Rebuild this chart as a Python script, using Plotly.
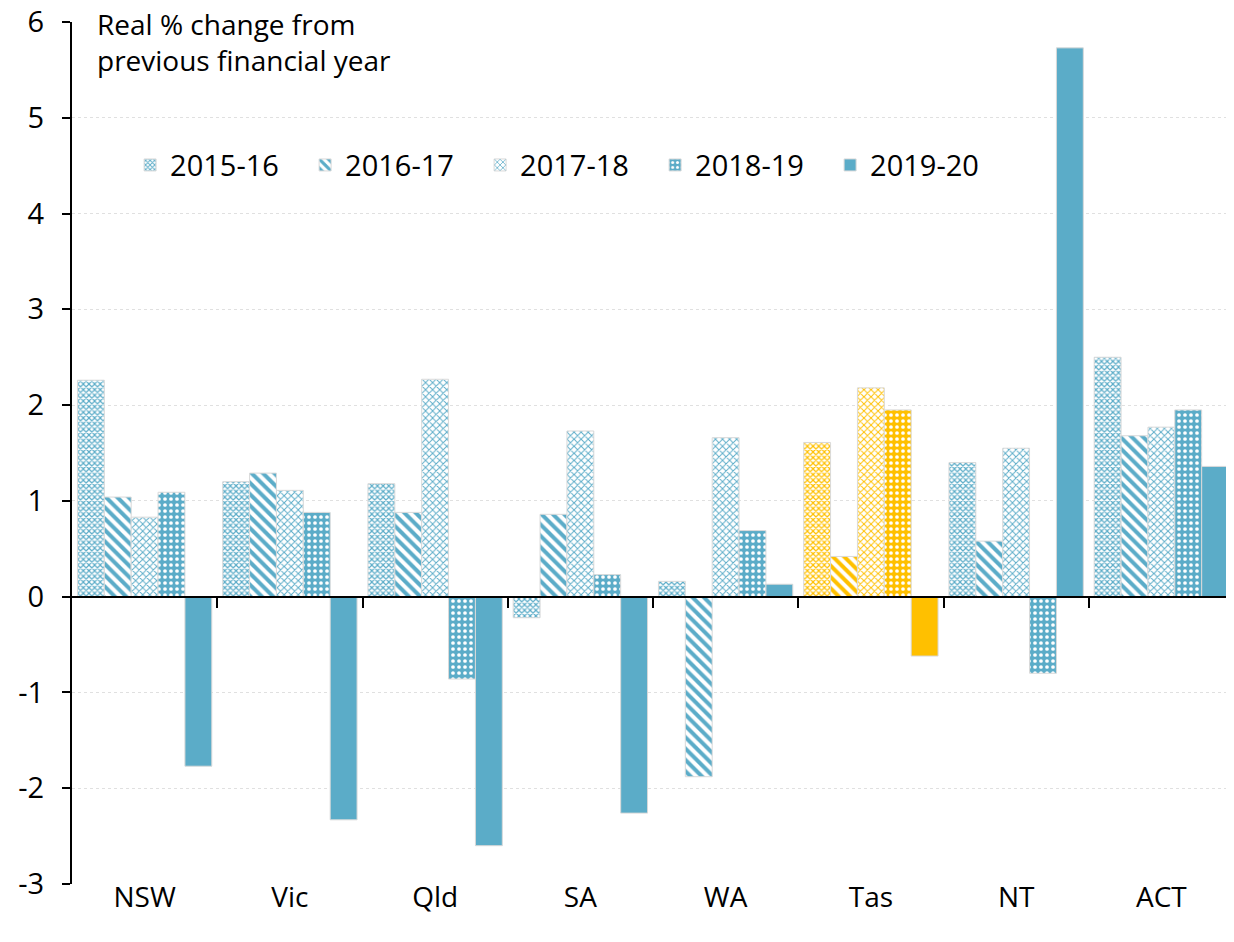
import plotly.graph_objects as go

states = ["NSW", "Vic", "Qld", "SA", "WA", "Tas", "NT", "ACT"]
years = ["2015-16", "2016-17", "2017-18", "2018-19", "2019-20"]

v_2015_16 = [2.26, 1.20, 1.18, -0.22, 0.16, 1.61, 1.40, 2.50]
v_2016_17 = [1.04, 1.29, 0.88, 0.86, -1.88, 0.42, 0.58, 1.68]
v_2017_18 = [0.83, 1.11, 2.27, 1.73, 1.66, 2.18, 1.55, 1.77]
v_2018_19 = [1.09, 0.88, -0.86, 0.23, 0.69, 1.95, -0.80, 1.95]
v_2019_20 = [-1.77, -2.33, -2.60, -2.26, 0.13, -0.62, 5.73, 1.36]

series = [v_2015_16, v_2016_17, v_2017_18, v_2018_19, v_2019_20]

y_ticks = [-3, -2, -1, 0, 1, 2, 3, 4, 5, 6]
y_tick_text = ["-3", "-2", "-1", "0", "1", "2", "3", "4", "5", "6"]

BLUE = "#5BACC8"
GOLD = "#FFC000"
FONT = "Open Sans"

# Tasmania is highlighted in gold
colours = [GOLD if s == "Tas" else BLUE for s in states]
whites = ["white"] * len(states)

# pattern per year: (shape, size, solidity, white marks on colour?)
patterns = [
    ("x", 4, 0.5, False),
    ("\\", 8, 0.5, False),
    ("x", 5, 0.35, False),
    (".", 6, 0.3, True),
    None,
]

fig = go.Figure()

for name, vals, pat in zip(years, series, patterns):
    if pat is None:
        marker = dict(color=colours)
    else:
        shape, size, solidity, inverse = pat
        # scalar marker colour so the per-bar pattern colours are honoured
        marker = dict(
            color=BLUE,
            pattern=dict(shape=shape, size=size, solidity=solidity,
                         fgcolor=whites if inverse else colours,
                         bgcolor=colours if inverse else whites,
                         fillmode="replace"),
        )
    marker["line"] = dict(color="#D9D9D9", width=1)
    fig.add_trace(go.Bar(x=states, y=vals, name=name, marker=marker))

# invisible trace so the zero-line axis with boundary ticks gets drawn
fig.add_trace(go.Scatter(x=[None], y=[None], xaxis="x2", showlegend=False,
                         hoverinfo="skip"))

fig.update_layout(
    width=1226, height=926,
    margin=dict(l=64, r=0, t=14, b=50),
    paper_bgcolor="white", plot_bgcolor="white",
    font=dict(family=FONT, size=24, color="black"),
    barmode="group", bargap=0.075, bargroupgap=0,
    showlegend=True,
    legend=dict(
        orientation="h", x=0.05, y=0.834, xanchor="left", yanchor="middle",
        font=dict(size=29), bgcolor="rgba(0,0,0,0)", itemwidth=30,
        entrywidth=130, entrywidthmode="pixels", traceorder="normal"
    ),
    xaxis=dict(
        showline=False, ticks="", showgrid=False, zeroline=False,
        tickfont=dict(size=28), range=[-0.5, 7.5], automargin=False,
        ticklabelstandoff=-6
    ),
    xaxis2=dict(
        overlaying="x", anchor="free", position=1 / 3, range=[-0.5, 7.5],
        showline=True, linecolor="black", linewidth=2,
        ticks="outside", ticklen=10, tickwidth=2, tickcolor="black",
        tickvals=[0.5, 1.5, 2.5, 3.5, 4.5, 5.5, 6.5],
        showticklabels=False, showgrid=False, zeroline=False, automargin=False
    ),
    yaxis=dict(
        range=[-3, 6], tickvals=y_ticks, ticktext=y_tick_text,
        showline=True, linecolor="black", linewidth=2,
        ticks="outside", ticklen=8, tickwidth=2, tickcolor="black",
        tickfont=dict(size=29), showgrid=True, gridcolor="#E0E0E0",
        griddash="dot", gridwidth=1, zeroline=False, automargin=False,
        ticklabelstandoff=12, ticklabeloverflow="allow"
    ),
    annotations=[dict(
        text="Real % change from<br>previous financial year",
        xref="paper", yref="paper", x=0.02, y=1.0, xanchor="left",
        yanchor="top", yshift=19, showarrow=False, align="left",
        font=dict(size=28, color="black")
    )],
)

fig.write_html("out.html")
